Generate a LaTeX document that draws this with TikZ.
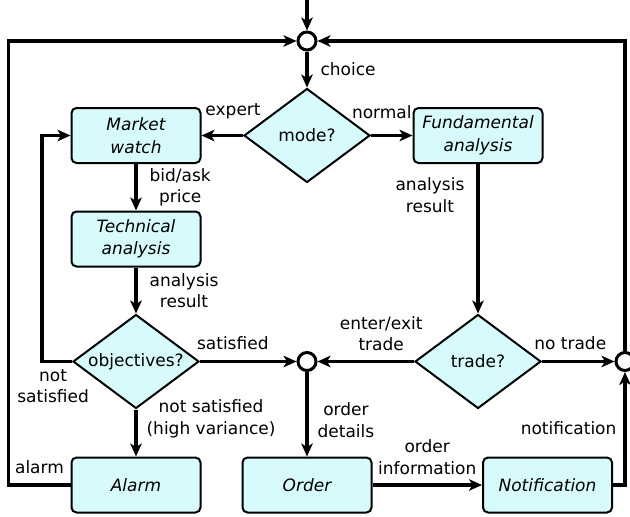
\documentclass[tikz,border=0pt]{standalone}
\usepackage{fontspec}
\setmainfont{DejaVu Sans}
\usetikzlibrary{positioning,shapes.geometric,arrows.meta}
\definecolor{boxfill}{RGB}{215,250,252}

\begin{document}
\begin{tikzpicture}[x=1pt,y=-1pt,
  every node/.style={font=\fontsize{17}{21.5}\selectfont},
  proc/.style={draw,line width=2pt,rounded corners=5pt,fill=boxfill,
    minimum width=129pt,minimum height=55pt,align=center,
    font=\fontsize{17}{22.5}\selectfont\itshape},
  test/.style={draw,diamond,line width=2pt,fill=boxfill,inner sep=0pt,
    aspect=1.33,minimum width=126pt,minimum height=94pt},
  junct/.style={draw,circle,line width=3pt,fill=white,minimum size=18pt,inner sep=0pt},
  lbl/.style={inner sep=2pt,align=center},
  flow/.style={line width=3.2pt,-{Stealth[length=13pt,width=11.5pt,inset=3.5pt]}}]
\useasboundingbox (0,0) rectangle (630,517);

\node[junct] (jtop) at (307,41) {};
\node[test] (mode) at (307,135.5) {mode?};
\node[proc] (mkt) at (136,135.5) {Market\\watch};
\node[proc] (fund) at (478,135.5) {Fundamental\\analysis};
\node[proc] (tech) at (136,239) {Technical\\analysis};
\node[test] (obj) at (136,361.5) {objectives?};
\node[junct] (jmid) at (307,361.5) {};
\node[test] (trade) at (478,361.5) {trade?};
\node[junct] (jright) at (625,361.5) {};
\node[proc] (alarm) at (136,485) {Alarm};
\node[proc] (order) at (307,485) {Order};
\node[proc] (notif) at (547.5,485) {Notification};
\coordinate (entry) at (307,0);

\draw[flow] (entry) -- (jtop);
\draw[flow] (jtop) -- node[lbl,right=10pt] {choice} (mode);
\draw[flow] (mode) -- node[lbl,above=13pt,pos=0.24] {expert} (mkt);
\draw[flow] (mode) -- node[lbl,above=13pt,pos=0.26] {normal} (fund);
\draw[flow] (mkt) -- node[lbl,right=10pt] {bid/ask\\price} (tech);
\draw[flow] (tech) -- node[lbl,right=10pt] {analysis\\result} (obj);
\draw[flow] (fund) -- node[lbl,left=10pt,pos=0.21] {analysis\\result} (trade);
\draw[flow] (obj) -- node[lbl,above=8pt,pos=0.34] {satisfied} (jmid);
\draw[flow] (trade) -- node[lbl,above=7pt,pos=0.34] {enter/exit\\trade} (jmid);
\draw[flow] (trade) -- node[lbl,above=8pt,pos=0.39] {no trade} (jright);
\draw[flow] (obj) -- node[lbl,right=7pt,pos=0.2] {not satisfied\\(high variance)} (alarm);
\draw[flow] (jmid) -- node[lbl,right=7pt,pos=0.57] {order\\details} (order);
\draw[flow] (order) -- node[lbl,above=7pt] {order\\information} (notif);
\draw[flow] (notif) -| node[lbl,left=5pt,pos=0.75] {notification} (jright);
% loops back
\draw[flow] (obj.west) -- node[lbl,below=4pt,pos=0.63] {not\\satisfied} ++(-30,0) |- (mkt.west);
\draw[flow] (alarm.west) -- node[lbl,above=8pt] {alarm} ++(-62,0) |- (jtop.west);
\draw[flow] (jright.north) |- (jtop.east);
\end{tikzpicture}
\end{document}
